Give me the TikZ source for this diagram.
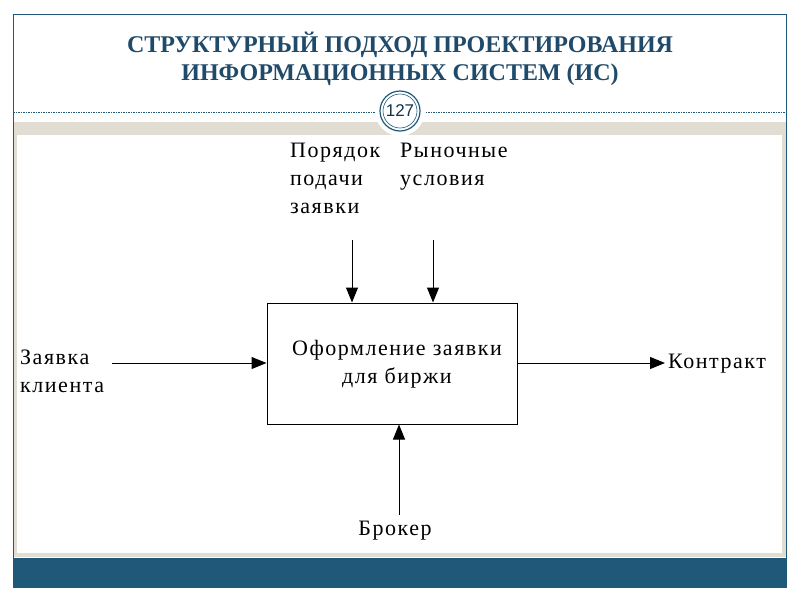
\documentclass[tikz,border=0pt]{standalone}
\usepackage{fontspec}
\setmainfont{Liberation Serif}
\newfontfamily\wideserif[LetterSpace=7]{Liberation Serif}
\usetikzlibrary{arrows.meta}
\definecolor{navy}{HTML}{1F5878}
\definecolor{titlec}{HTML}{1F4A6A}
\definecolor{beige}{HTML}{E2DDD3}
\begin{document}
\begin{tikzpicture}[x=1pt,y=-1pt,
  lbl/.style={font=\wideserif\fontsize{22}{28}\selectfont,align=left,inner sep=0pt},
  arr/.style={line width=1pt,-{Triangle[length=15pt,width=12pt]}}]
\useasboundingbox (0,0) rectangle (800,600);
\fill[white] (0,0) rectangle (800,600);
\draw[navy,line width=0.8pt] (13,14) rectangle (786,587);
\fill[beige] (13.5,122) rectangle (785.5,557);
\fill[white] (17,135) rectangle (782,553);
\fill[navy] (13,558) rectangle (786,587);
\draw[navy,dashed,line width=0.5pt,dash pattern=on 1.5pt off 1pt] (13,112) -- (786,112);
\node[font=\bfseries\fontsize{24}{28}\selectfont,text=titlec,align=center] (title) at (400,59) {СТРУКТУРНЫЙ ПОДХОД ПРОЕКТИРОВАНИЯ\\ИНФОРМАЦИОННЫХ СИСТЕМ (ИС)};
\fill[white] (400,111) circle (25);
\draw[navy,line width=1.2pt] (400,111) circle (20);
\draw[navy,line width=0.6pt] (400,111) circle (17);
\node[font=\fontspec{Liberation Sans}\fontsize{17}{17}\selectfont,text=navy!60!black] (pg) at (400,111) {127};
\node[draw,line width=1pt,minimum width=250pt,minimum height=121pt] (box) at (392,363.5) {};
\node[lbl,align=center] (boxt) at (397,364) {Оформление заявки\\для биржи};
\node[lbl,anchor=north west] (in1) at (20,350) {Заявка\\клиента};
\node[lbl,anchor=west] (out1) at (668,364) {Контракт};
\node[lbl,anchor=north west] (c1) at (290,143) {Порядок\\подачи\\заявки};
\node[lbl,anchor=north west] (c2) at (400,143) {Рыночные\\условия};
\node[lbl] (m1) at (395,531) {Брокер};
\coordinate (a1) at (112,363);
\coordinate (a2) at (665,363);
\coordinate (t1) at (352,240);
\coordinate (t2) at (433,240);
\coordinate (b1) at (399,515);
\draw[arr] (a1) -- (box.west |- a1);
\draw[arr] (box.east |- a2) -- (a2);
\draw[arr] (t1) -- (t1 |- box.north);
\draw[arr] (t2) -- (t2 |- box.north);
\draw[arr] (b1) -- (b1 |- box.south);
\end{tikzpicture}
\end{document}
